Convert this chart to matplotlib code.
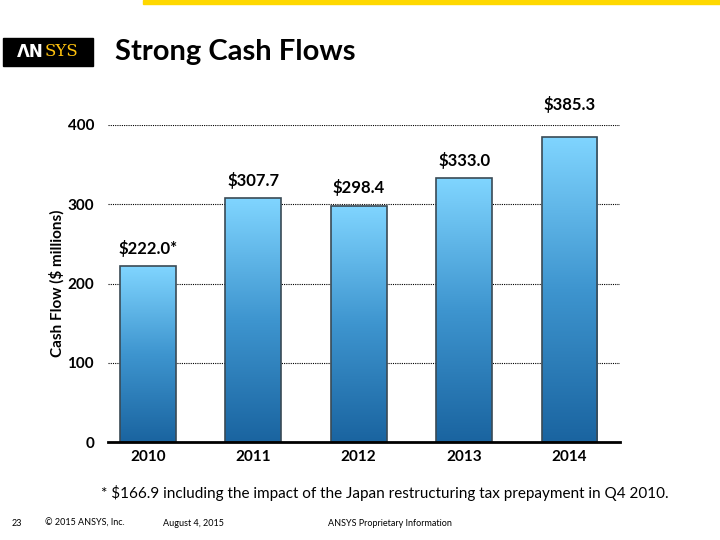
import matplotlib.pyplot as plt
import numpy as np
from matplotlib.colors import LinearSegmentedColormap
from matplotlib.patches import Rectangle

plt.rcParams['font.family'] = ['Lato', 'DejaVu Sans']

years = ["2010", "2011", "2012", "2013", "2014"]
cash_flow = [222.0, 307.7, 298.4, 333.0, 385.3]
bar_labels = ["$222.0*", "$307.7", "$298.4", "$333.0", "$385.3"]
y_ticks = [0, 100, 200, 300, 400]

fig = plt.figure(figsize=(7.2, 5.4), dpi=100)

# top yellow strip
fig.patches.append(Rectangle((143 / 720, 1 - 4 / 540), 1 - 143 / 720, 4 / 540,
                             transform=fig.transFigure, color="#FFD800", zorder=0))

# logo block
fig.patches.append(Rectangle((3 / 720, 1 - 66 / 540), 90 / 720, 28 / 540,
                             transform=fig.transFigure, color="black", zorder=1))
fig.text(44 / 720, 1 - 52 / 540, "ΛN", color="white", fontsize=12, fontweight="bold",
         va="center", ha="right", family="DejaVu Sans")
fig.text(45 / 720, 1 - 52 / 540, "SYS", color="#FFC20E", fontsize=12,
         va="center", ha="left", family="DejaVu Serif")

fig.text(115 / 720, 1 - 52 / 540, "Strong Cash Flows", fontsize=21, fontweight="bold",
         va="center", ha="left")

ax = fig.add_axes([108 / 720, 98 / 540, 512 / 720, 317 / 540])
x = np.arange(len(years))
bars = ax.bar(x, cash_flow, width=0.53, color="none", edgecolor="#3a4a55",
              linewidth=1.2, zorder=3)

cmap = LinearSegmentedColormap.from_list("blu", ["#1A64A0", "#3E95CF", "#80D5FF"])
grad = np.linspace(0, 1, 256).reshape(-1, 1)
for b in bars:
    im = ax.imshow(grad, cmap=cmap, aspect="auto", origin="lower",
                   extent=[b.get_x(), b.get_x() + b.get_width(), 0, b.get_height()],
                   zorder=2)
    im.set_clip_path(b)

label_gap = [12, 12, 12, 12, 30]
for xi, v, lab, g in zip(x, cash_flow, bar_labels, label_gap):
    ax.text(xi, v + g, lab, ha="center", va="bottom", fontsize=12, fontweight="bold")

ax.set_xlim(-0.38, 4.48)
ax.set_ylim(0, 400)
ax.set_yticks(y_ticks)
ax.set_xticks(x)
ax.set_xticklabels(years)
ax.tick_params(axis="both", length=0, labelsize=11)
ax.tick_params(axis="y", pad=10)
ax.tick_params(axis="x", pad=6)
for lbl in ax.get_xticklabels() + ax.get_yticklabels():
    lbl.set_fontweight("bold")
ax.set_ylabel("Cash Flow ($ millions)", fontsize=11, fontweight="bold", labelpad=2)

ax.grid(axis="y", linestyle=(0, (1, 1)), color="black", linewidth=0.8, zorder=0)
ax.set_axisbelow(True)
for s in ["top", "right", "left"]:
    ax.spines[s].set_visible(False)
ax.spines["bottom"].set_linewidth(2)
ax.spines["bottom"].set_zorder(4)

fig.text(385 / 720, 1 - 493 / 540,
         "* $166.9 including the impact of the Japan restructuring tax prepayment in Q4 2010.",
         ha="center", va="center", fontsize=11)

fig.text(12 / 720, 1 - 523 / 540, "23", fontsize=6.5, va="center")
fig.text(45 / 720, 1 - 523 / 540, "© 2015 ANSYS, Inc.", fontsize=6.5, va="center")
fig.text(163 / 720, 1 - 523 / 540, "August 4, 2015", fontsize=6.5, va="center")
fig.text(328 / 720, 1 - 523 / 540, "ANSYS Proprietary Information", fontsize=6.5, va="center")

fig.savefig("out.png", dpi=100)
